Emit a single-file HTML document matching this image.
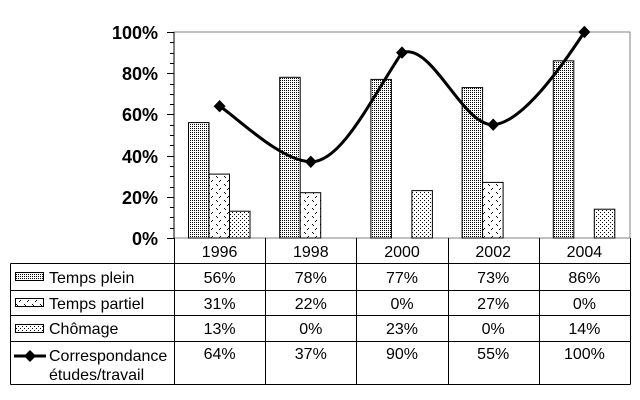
<!DOCTYPE html>
<html><head><meta charset="utf-8"><style>
body{margin:0;background:#fff;}
svg{display:block;font-family:"Liberation Sans",Arial,sans-serif;}
</style></head><body>
<svg width="640" height="400" viewBox="0 0 640 400" xmlns="http://www.w3.org/2000/svg">
<defs>
<pattern id="p1" width="2" height="2" patternUnits="userSpaceOnUse"><rect width="2" height="2" fill="#fff"/><rect width="1" height="1" fill="#000"/></pattern>
<pattern id="p2" width="8" height="8" patternUnits="userSpaceOnUse"><rect width="8" height="8" fill="#fff"/><rect x="0" y="0" width="1" height="1" fill="#000"/><rect x="1" y="1" width="1" height="1" fill="#000"/><rect x="4" y="4" width="1" height="1" fill="#000"/><rect x="3" y="5" width="1" height="1" fill="#000"/></pattern>
<pattern id="p3" width="4" height="4" patternUnits="userSpaceOnUse"><rect width="4" height="4" fill="#fff"/><rect x="0" y="0" width="1" height="1" fill="#000"/><rect x="2" y="2" width="1" height="1" fill="#000"/></pattern>
</defs>
<rect x="174" y="32" width="456" height="206" fill="none" stroke="#808080"/>
<g font-weight="bold" font-size="18" text-anchor="end">
<text x="158" y="39">100%</text><text x="158" y="80">80%</text><text x="158" y="121">60%</text><text x="158" y="163">40%</text><text x="158" y="204">20%</text><text x="158" y="245">0%</text>
</g>
<g stroke="#000">
<line x1="174" y1="32" x2="174" y2="238"/>
<line x1="167" y1="32.5" x2="174" y2="32.5"/><line x1="167" y1="73.5" x2="174" y2="73.5"/><line x1="167" y1="114.5" x2="174" y2="114.5"/><line x1="167" y1="156.5" x2="174" y2="156.5"/><line x1="167" y1="197.5" x2="174" y2="197.5"/><line x1="167" y1="238.5" x2="174" y2="238.5"/>
<path d="M170 42.5h4M170 53.5h4M170 63.5h4M170 84.5h4M170 94.5h4M170 104.5h4M170 125.5h4M170 135.5h4M170 145.5h4M170 166.5h4M170 176.5h4M170 187.5h4M170 207.5h4M170 217.5h4M170 228.5h4"/>
</g>
<g stroke="#000" stroke-width="1">
<rect x="188.5" y="122.6" width="20.5" height="115.4" fill="url(#p1)"/>
<rect x="209" y="174.1" width="20.5" height="63.9" fill="url(#p2)"/>
<rect x="229.5" y="211.2" width="20.5" height="26.8" fill="url(#p3)"/>
<rect x="279.7" y="77.3" width="20.5" height="160.7" fill="url(#p1)"/>
<rect x="300.2" y="192.7" width="20.5" height="45.3" fill="url(#p2)"/>
<rect x="370.9" y="79.4" width="20.5" height="158.6" fill="url(#p1)"/>
<rect x="411.9" y="190.6" width="20.5" height="47.4" fill="url(#p3)"/>
<rect x="462.1" y="87.6" width="20.5" height="150.4" fill="url(#p1)"/>
<rect x="482.6" y="182.4" width="20.5" height="55.6" fill="url(#p2)"/>
<rect x="553.3" y="60.8" width="20.5" height="177.2" fill="url(#p1)"/>
<rect x="594.3" y="209.2" width="20.5" height="28.8" fill="url(#p3)"/>
</g>
<path d="M219.6 106.2 C234.8 115.5,280 161,310.8 161.8 C341.2 162.6,371 99,402 52.6 C432.5 42,462 126,493.2 124.7 C523.5 123,566 60,584.4 32" fill="none" stroke="#000" stroke-width="3"/>
<g fill="#000">
<path d="M219.6 100l6 6.2-6 6.2-6-6.2z"/><path d="M310.8 155.6l6 6.2-6 6.2-6-6.2z"/><path d="M402 46.4l6 6.2-6 6.2-6-6.2z"/><path d="M493.2 118.5l6 6.2-6 6.2-6-6.2z"/><path d="M584.4 25.8l6 6.2-6 6.2-6-6.2z"/>
</g>
<g stroke="#000" fill="none">
<path d="M10.5 263.5H630.5M10.5 290.5H630.5M10.5 315.5H630.5M10.5 341.5H630.5M10.5 384.5H630.5M10.5 263.5V384.5M174.5 238V384.5M265.5 238V384.5M356.5 238V384.5M448.5 238V384.5M539.5 238V384.5M630.5 238V384.5"/>
</g>
<rect x="15.5" y="272.5" width="28" height="8" fill="url(#p1)" stroke="#000"/>
<rect x="15.5" y="298.5" width="28" height="8" fill="url(#p2)" stroke="#000"/>
<rect x="15.5" y="324.5" width="28" height="8" fill="url(#p3)" stroke="#000"/>
<line x1="14" y1="356" x2="46" y2="356" stroke="#000" stroke-width="3"/><path d="M30 350l6 6-6 6-6-6z" fill="#000"/>
<g font-size="16" fill="#000">
<text x="49" y="283">Temps plein</text>
<text x="49" y="309">Temps partiel</text>
<text x="49" y="334">Chômage</text>
<text x="49" y="361">Correspondance</text>
<text x="49" y="380">études/travail</text>
</g>
<g font-size="16" text-anchor="middle">
<text x="219.6" y="257">1996</text><text x="310.8" y="257">1998</text><text x="402" y="257">2000</text><text x="493.2" y="257">2002</text><text x="584.4" y="257">2004</text>
<text x="219.6" y="283">56%</text><text x="310.8" y="283">78%</text><text x="402" y="283">77%</text><text x="493.2" y="283">73%</text><text x="584.4" y="283">86%</text>
<text x="219.6" y="309">31%</text><text x="310.8" y="309">22%</text><text x="402" y="309">0%</text><text x="493.2" y="309">27%</text><text x="584.4" y="309">0%</text>
<text x="219.6" y="334">13%</text><text x="310.8" y="334">0%</text><text x="402" y="334">23%</text><text x="493.2" y="334">0%</text><text x="584.4" y="334">14%</text>
<text x="219.6" y="359">64%</text><text x="310.8" y="359">37%</text><text x="402" y="359">90%</text><text x="493.2" y="359">55%</text><text x="584.4" y="359">100%</text>
</g>
</svg>
</body></html>
